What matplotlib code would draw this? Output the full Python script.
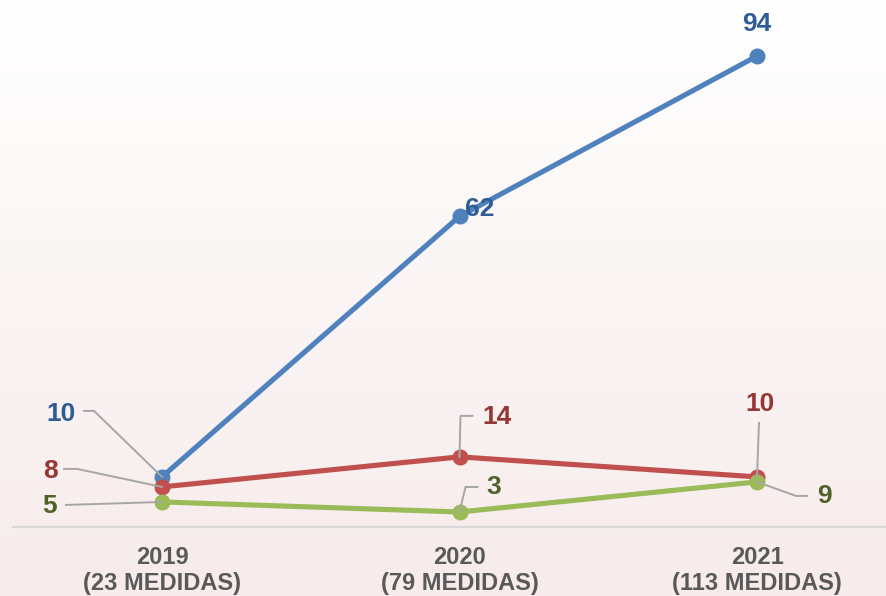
import matplotlib.pyplot as plt
import matplotlib.transforms as mtransforms
import numpy as np

plt.rcParams['font.family'] = ['Liberation Sans', 'DejaVu Sans']

# Data
categories = ['2019\n(23 MEDIDAS)', '2020\n(79 MEDIDAS)', '2021\n(113 MEDIDAS)']
blue_vals = [10, 62, 94]
red_vals = [8, 14, 10]
green_vals = [5, 3, 9]

series = [
    (blue_vals, '#4F81BD', '#2F5C95'),
    (red_vals, '#C0504D', '#953735'),
    (green_vals, '#9BBB59', '#4F6228'),
]

# label placement: (text offset px, leader vertices px) relative to the point
label_pos = [
    [((-101, 63), [(-78, 66), (-68, 66), (0, 0)]),
     ((20, 7), None),
     ((0, 32), None)],
    [((-112, 16), [(-98, 18), (-85, 18), (0, 0)]),
     ((37, 40), [(0, 0), (1, 41), (13, 41)]),
     ((3, 73), [(0, 0), (2, 54)])],
    [((-112, -4), [(-96, -3), (0, 0)]),
     ((34, 25), [(0, 0), (6, 25), (18, 25)]),
     ((67, -14), [(0, 0), (39, -14), (50, -14)])],
]

fig = plt.figure(figsize=(8.86, 5.96), dpi=100)

# background gradient
bg = fig.add_axes([0, 0, 1, 1], zorder=-1)
grad = np.linspace(0, 1, 256).reshape(-1, 1)
top = np.array([1.0, 1.0, 1.0])
bottom = np.array([247, 235, 235]) / 255
img = top + (bottom - top) * grad[:, :, None]
bg.imshow(img, aspect='auto', extent=[0, 1, 0, 1])
bg.axis('off')

ax = fig.add_axes([13.25 / 886, 69 / 596, (886 - 13.25) / 886, 501 / 596])
ax.patch.set_alpha(0)
x = np.arange(len(categories))

# category axis line
ax.axhline(0, xmin=0, xmax=1.05, color='#D9D9D9', lw=1.6, clip_on=False, zorder=1)

for (vals, col, tcol), pos in zip(series, label_pos):
    ax.plot(x, vals, color=col, lw=3.7, marker='o', ms=10.5, solid_capstyle='round', zorder=3)
    for xi, v, (toff, leader) in zip(x, vals, pos):
        tr = mtransforms.ScaledTranslation(xi, v, ax.transData)
        if leader:
            lx, ly = zip(*leader)
            ax.plot(lx, ly, color='#A6A6A6', lw=1.4, transform=tr, clip_on=False, zorder=4)
        ax.text(toff[0], toff[1], str(v), transform=tr, color=tcol, fontsize=19,
                fontweight='bold', ha='center', va='center', zorder=5)

ax.set_xlim(-0.5, (886 - 162) / 297.5)
ax.set_ylim(0, 100)
ax.set_xticks(x)
ax.set_xticklabels(categories, fontsize=17, fontweight='bold', color='#595959', linespacing=1.15)
ax.tick_params(axis='x', length=0, pad=14)
ax.set_yticks([])
for s in ax.spines.values():
    s.set_visible(False)

fig.savefig('out.png', dpi=100)
